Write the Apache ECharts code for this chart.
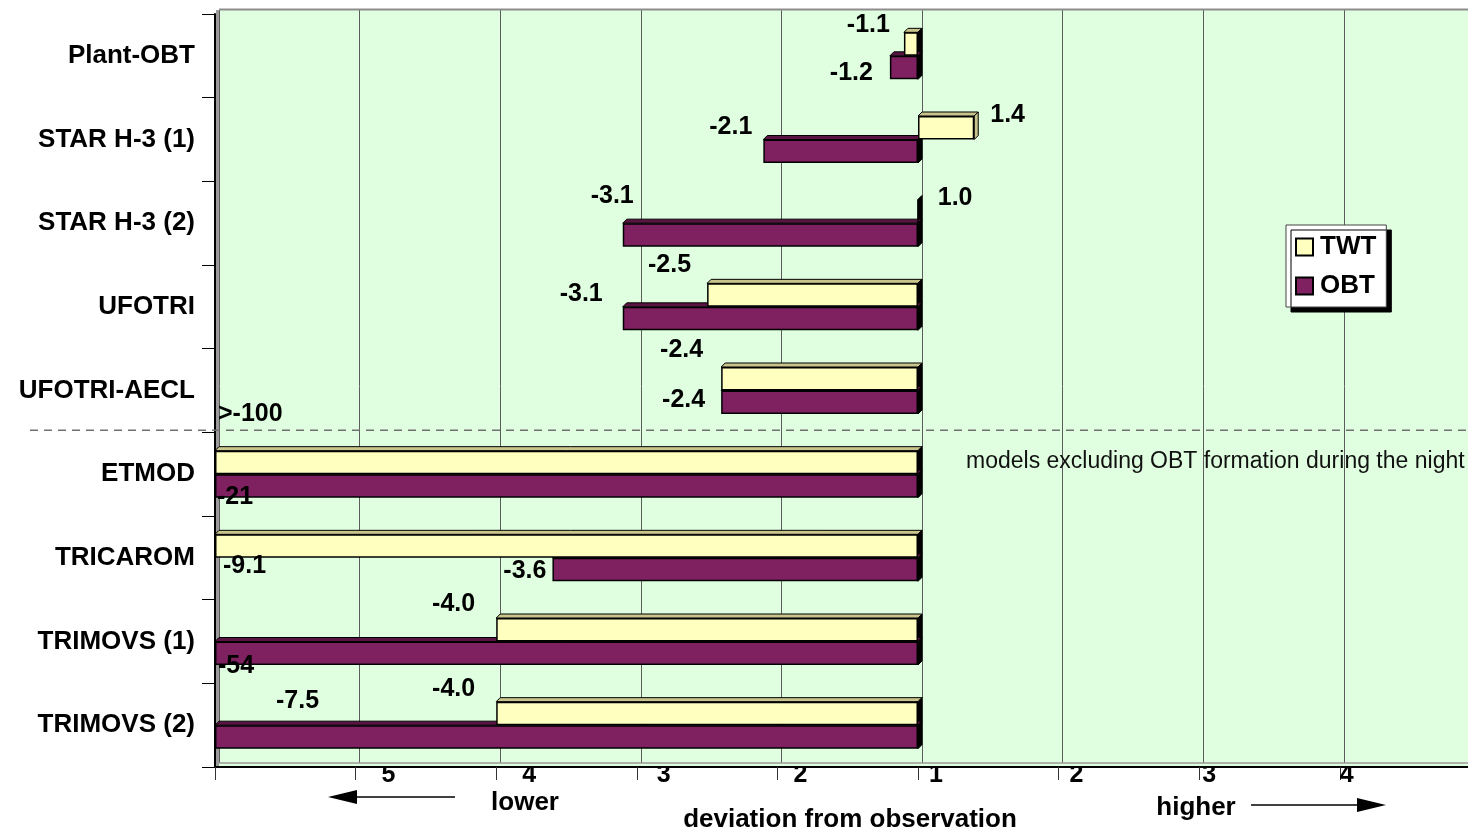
<!DOCTYPE html>
<html><head><meta charset="utf-8">
<script src="https://cdn.jsdelivr.net/npm/echarts@6/dist/echarts.min.js"></script>
<style>html,body{margin:0;padding:0;background:#fff}#c{width:1468px;height:833px}</style>
</head><body><div id="c"></div>
<script>
// ---------------- data ----------------
const categories = ['Plant-OBT', 'STAR H-3 (1)', 'STAR H-3 (2)', 'UFOTRI', 'UFOTRI-AECL', 'ETMOD', 'TRICAROM', 'TRIMOVS (1)', 'TRIMOVS (2)'];
const seriesNames = ['TWT', 'OBT'];
// signed deviation factor from observation (negative = lower than observed)
const twtDeviation = [-1.1, 1.4, 1.0, -2.5, -2.4, -100, -9.1, -4.0, -4.0];
const obtDeviation = [-1.2, -2.1, -3.1, -3.1, -2.4, -21, -3.6, -54, -7.5];
const twtLabels = ['-1.1', '1.4', '1.0', '-2.5', '-2.4', '>-100', '-9.1', '-4.0', '-4.0'];
const obtLabels = ['-1.2', '-2.1', '-3.1', '-3.1', '-2.4', '-21', '-3.6', '-54', '-7.5'];
const xTickValues = [-5, -4, -3, -2, -1, 0, 1, 2, 3];
const xTickLabels = ['', '5', '4', '3', '2', '1', '2', '3', '4'];
const noteText = 'models excluding OBT formation during the night';

// ---------------- layout / style ----------------
const FONT = "'Liberation Sans', Arial, Helvetica, sans-serif";
const AXIS_MIN = -5;
const BAR_H = 23.5;
const DEPTH = 4;
const COLORS = { twt: '#FFFFC0', obt: '#7F2060', twtTop: '#C8C48C', obtTop: '#5A1444', wall: '#E0FFE0' };
// label placement [position, dx, dy]
const twtLabelLayout = [['left', -14, -19], ['right', 16, -13], ['right', 19, -13], ['left', -16, -30], ['left', -18, -29], ['insideLeft', 3, -48], ['insideLeft', 8, 20], ['left', -21, -26], ['left', -21, -24]];
const obtLabelLayout = [['left', -17, 6], ['left', -11, -24], ['left', 11, -39], ['left', -20, -24], ['left', -16, -2], ['insideLeft', 2, 11], ['left', -6, 2], ['insideLeft', 3, 13], ['insideLeft', 61, -36]];
const xLabelShift = [0, 26, 26, 20, 16, 11, 11, 3, 0];

// deviation factor -> axis position (1 = no deviation at 0), clipped at the axis minimum
const toAxis = d => Math.max(AXIS_MIN, Math.sign(d) * (Math.abs(d) - 1));

const W = 1468, H = 833;
const FRONT = { left: 215, top: 14, bottom: 767 };
const ZERO_X = 918;
const PX_UNIT = (ZERO_X - FRONT.left) / -AXIS_MIN;
const frontMax = (W - ZERO_X) / PX_UNIT;
const backMax = (W - ZERO_X - DEPTH) / PX_UNIT;

function barData(devs, labels, layout) {
  return devs.map((d, i) => ({
    value: toAxis(d),
    label: { position: layout[i][0], offset: [layout[i][1], layout[i][2]], formatter: labels[i] }
  }));
}

const rich = {};
xLabelShift.forEach((p, k) => {
  rich['p' + k] = { fontFamily: FONT, fontWeight: 'bold', fontSize: 25, color: '#000', padding: [0, 0, 0, p], lineHeight: 26 };
});

const labelStyle = { show: true, distance: 0, fontFamily: FONT, fontWeight: 'bold', fontSize: 25, color: '#000' };

const chart = echarts.init(document.getElementById('c'), null, { renderer: 'canvas' });

const option = {
  animation: false,
  backgroundColor: '#fff',
  textStyle: { fontFamily: FONT },
  grid: [
    { left: FRONT.left + DEPTH, right: 0, top: FRONT.top - DEPTH, bottom: H - FRONT.bottom + DEPTH,
      show: true, backgroundColor: COLORS.wall, borderWidth: 0 },
    { left: FRONT.left, right: 0, top: FRONT.top, bottom: H - FRONT.bottom, show: false }
  ],
  xAxis: [
    { gridIndex: 0, type: 'value', min: AXIS_MIN, max: backMax, interval: 1,
      axisLine: { show: false }, axisTick: { show: false }, axisLabel: { show: false },
      splitLine: { show: true, lineStyle: { color: '#5c5c5c', width: 1 } } },
    { gridIndex: 1, type: 'value', min: AXIS_MIN, max: frontMax, interval: 1,
      axisLine: { show: true, onZero: false, lineStyle: { color: '#000', width: 2 } },
      axisTick: { show: true, length: 13, customValues: xTickValues, lineStyle: { color: '#333', width: 1 } },
      splitLine: { show: false },
      axisLabel: {
        show: true, align: 'left', margin: -5, rich: rich, customValues: xTickValues,
        formatter: v => {
          const k = xTickValues.indexOf(Math.round(v));
          return k >= 0 && xTickLabels[k] ? '{p' + k + '|' + xTickLabels[k] + '}' : '';
        }
      } }
  ],
  yAxis: [
    { gridIndex: 0, type: 'value', show: false },
    { gridIndex: 1, type: 'category', data: categories, inverse: true,
      axisLine: { show: true, onZero: false, lineStyle: { color: '#000', width: 2 } },
      axisTick: { show: true, length: 13, lineStyle: { color: '#000', width: 1 } },
      axisLabel: { margin: 20, fontFamily: FONT, fontWeight: 'bold', fontSize: 26, color: '#000' },
      splitLine: { show: false } }
  ],
  legend: {
    data: seriesNames, orient: 'vertical', left: 1286, top: 225,
    padding: [9, 10, 8, 9], itemGap: 13, itemWidth: 17, itemHeight: 17, icon: 'rect',
    backgroundColor: '#fff', borderColor: '#444', borderWidth: 1,
    shadowColor: '#000', shadowBlur: 0, shadowOffsetX: 5, shadowOffsetY: 5,
    textStyle: { fontFamily: FONT, fontWeight: 'bold', fontSize: 26, color: '#000', padding: [0, 0, 0, 2] }
  },
  series: [
    { name: 'decor', type: 'custom', xAxisIndex: 1, yAxisIndex: 1, z: 2, silent: true,
      data: categories.map((c, i) => [0, i]),
      renderItem: (params, api) => {
        const i = params.dataIndex;
        const c0 = api.coord([0, i]);
        const x0 = c0[0], yc = c0[1];
        const children = [];
        [[twtDeviation, yc - BAR_H, COLORS.twtTop], [obtDeviation, yc, COLORS.obtTop]].forEach(([devs, yTop, topC]) => {
          const v = toAxis(devs[i]);
          const xe = api.coord([v, i])[0];
          const xl = Math.min(x0, xe), xr = Math.max(x0, xe);
          children.push({ type: 'polygon', shape: { points: [[xl, yTop], [xl + DEPTH, yTop - DEPTH], [xr + DEPTH, yTop - DEPTH], [xr, yTop]] },
            style: { fill: topC, stroke: '#000', lineWidth: 1 } });
          children.push({ type: 'polygon', shape: { points: [[xr, yTop], [xr + DEPTH, yTop - DEPTH], [xr + DEPTH, yTop + BAR_H - DEPTH], [xr, yTop + BAR_H]] },
            style: { fill: v > 0 ? topC : '#000', stroke: '#000', lineWidth: 1 } });
        });
        return { type: 'group', children: children };
      } },
    { name: 'TWT', type: 'bar', xAxisIndex: 1, yAxisIndex: 1, z: 3, barWidth: BAR_H, barGap: '0%',
      data: barData(twtDeviation, twtLabels, twtLabelLayout),
      itemStyle: { color: COLORS.twt, borderColor: '#000', borderWidth: 1.5 },
      label: labelStyle },
    { name: 'OBT', type: 'bar', xAxisIndex: 1, yAxisIndex: 1, z: 3, barWidth: BAR_H, barGap: '0%',
      data: barData(obtDeviation, obtLabels, obtLabelLayout),
      itemStyle: { color: COLORS.obt, borderColor: '#000', borderWidth: 1.5 },
      label: labelStyle }
  ]
};
chart.setOption(option);

const yA = chart.convertToPixel({ yAxisIndex: 1 }, categories[4]);
const yB = chart.convertToPixel({ yAxisIndex: 1 }, categories[5]);
const ySep = (yA + yB) / 2 - 2;

const boldText = (txt, x, y, align) => ({ type: 'text', x: x, y: y,
  style: { text: txt, fill: '#000', font: 'bold 26px ' + FONT, textAlign: align || 'center', textVerticalAlign: 'middle' } });

const backTop = FRONT.top - DEPTH, backBottom = FRONT.bottom - DEPTH;
chart.setOption({
  graphic: [
    // side wall, floor and edges of the 3-D plot box
    { type: 'rect', z: 1, shape: { x: FRONT.left + 1, y: backTop, width: DEPTH - 1, height: FRONT.bottom - backTop - 1 }, style: { fill: '#9a9a9a' } },
    { type: 'rect', z: 1, shape: { x: FRONT.left + DEPTH, y: backBottom, width: W - FRONT.left, height: DEPTH - 1 }, style: { fill: COLORS.wall } },
    { type: 'line', z: 1, shape: { x1: FRONT.left + DEPTH, y1: backTop - 0.5, x2: W, y2: backTop - 0.5 }, style: { stroke: '#8c8c8c', lineWidth: 2 } },
    { type: 'line', z: 1, shape: { x1: FRONT.left + DEPTH, y1: backBottom, x2: W, y2: backBottom }, style: { stroke: '#9a9a9a', lineWidth: 1.5 } },
    { type: 'line', z: 5, shape: { x1: 30, y1: ySep, x2: W, y2: ySep }, style: { stroke: '#707070', lineWidth: 1.5, lineDash: [8, 6] } },
    { type: 'text', z: 5, x: 966, y: 462, style: { text: noteText, fill: '#111', font: '23px ' + FONT, textAlign: 'left', textVerticalAlign: 'middle' } },
    boldText('lower', 525, 803),
    boldText('deviation from observation', 850, 820),
    boldText('higher', 1196, 808),
    { type: 'line', shape: { x1: 344, y1: 797, x2: 455, y2: 797 }, style: { stroke: '#000', lineWidth: 1.5 } },
    { type: 'polygon', shape: { points: [[328, 797], [357, 790], [357, 804]] }, style: { fill: '#000' } },
    { type: 'line', shape: { x1: 1251, y1: 805, x2: 1362, y2: 805 }, style: { stroke: '#000', lineWidth: 1.5 } },
    { type: 'polygon', shape: { points: [[1386, 805], [1357, 798], [1357, 812]] }, style: { fill: '#000' } }
  ]
});
</script>
</body></html>
